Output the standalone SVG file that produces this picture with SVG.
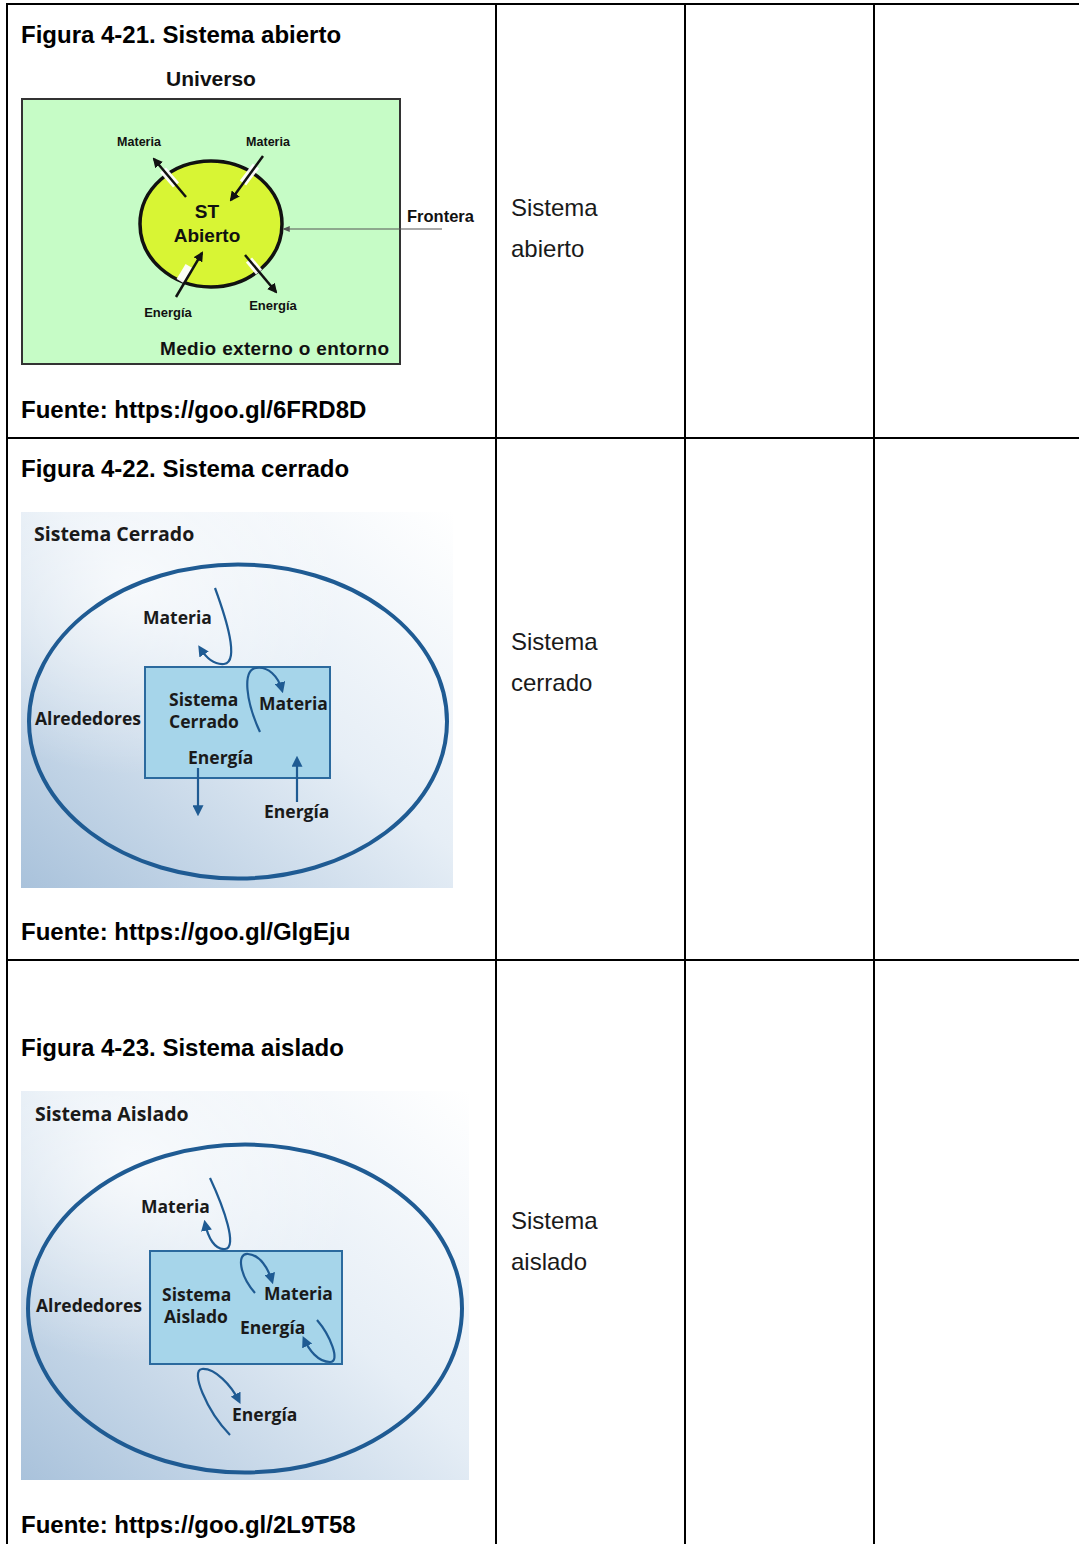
<svg xmlns="http://www.w3.org/2000/svg" width="1079" height="1544" viewBox="0 0 1079 1544">
<style>
.grid{stroke:#000;stroke-width:2;fill:none}
.t{font-family:"Liberation Sans",Arial,sans-serif;font-weight:bold;font-size:24px;fill:#000}
.r{font-family:"Liberation Sans",Arial,sans-serif;font-size:24px;fill:#1a1a1a}
.ob{font-family:"Liberation Sans",Arial,sans-serif;font-weight:bold;fill:#111}
.ms{font-family:"Open Sans","Noto Sans",sans-serif;font-weight:bold;font-size:17.5px;fill:#1a1a1a}
.ms.hd{font-size:19.5px}
.blk{stroke:#111;stroke-width:2.5;fill:none}
.wh{stroke:#fff;stroke-width:8;opacity:0.95}
.bl{stroke:#1f5b93;stroke-width:2.2;fill:none}
.ell{fill:none;stroke:#1f5b93;stroke-width:4}
.box{fill:#a6d5ea;stroke:#2b6a9e;stroke-width:2}
</style>
<defs>
<marker id="ak" viewBox="0 0 10 10" refX="8" refY="5" markerWidth="4" markerHeight="4" orient="auto"><path d="M0,0 L10,5 L0,10 Z" fill="#111"/></marker>
<marker id="af" viewBox="0 0 10 10" refX="8" refY="5" markerWidth="6" markerHeight="6" orient="auto"><path d="M0,1 L10,5 L0,9 Z" fill="#555"/></marker>
<marker id="ab" viewBox="0 0 10 10" refX="7" refY="5" markerWidth="5" markerHeight="5" orient="auto"><path d="M0,0 L10,5 L0,10 Z" fill="#1f5b93"/></marker>
<linearGradient id="bg" x1="1" y1="0" x2="0" y2="1">
<stop offset="0" stop-color="#ffffff"/>
<stop offset="0.45" stop-color="#e6eef6"/>
<stop offset="1" stop-color="#a9c2db"/>
</linearGradient>
<radialGradient id="hl" cx="0.25" cy="0.2" r="0.5">
<stop offset="0" stop-color="#ffffff" stop-opacity="0.7"/>
<stop offset="1" stop-color="#ffffff" stop-opacity="0"/>
</radialGradient>
</defs>

<g id="table">
<line class="grid" x1="6" y1="4" x2="1079" y2="4"/>
<line class="grid" x1="7" y1="3" x2="7" y2="1544"/>
<line class="grid" x1="496" y1="4" x2="496" y2="1544"/>
<line class="grid" x1="685" y1="4" x2="685" y2="1544"/>
<line class="grid" x1="874" y1="4" x2="874" y2="1544"/>
<line class="grid" x1="6" y1="438" x2="1079" y2="438"/>
<line class="grid" x1="6" y1="960" x2="1079" y2="960"/>
</g>

<g id="row1">
<text class="t" x="21" y="43">Figura 4-21. Sistema abierto</text>
<text class="ob" x="211" y="86" font-size="21" text-anchor="middle">Universo</text>
<rect x="22" y="99" width="378" height="265" fill="#c6fcc6" stroke="#333" stroke-width="2"/>
<g id="st-abierto">
<ellipse cx="211" cy="224" rx="71" ry="63" fill="#d8f534" stroke="#111" stroke-width="3.5"/>
<text class="ob" x="207" y="218" font-size="19" text-anchor="middle">ST</text>
<text class="ob" x="207" y="242" font-size="19" text-anchor="middle">Abierto</text>
</g>
<g id="open-arrows">
<line class="wh" x1="163" y1="170" x2="176" y2="185"/>
<line class="wh" x1="256" y1="166" x2="243" y2="183"/>
<line class="wh" x1="180" y1="281" x2="189" y2="266"/>
<line class="wh" x1="249" y1="260" x2="259" y2="272"/>
<line class="blk" x1="186" y1="197" x2="154" y2="159" marker-end="url(#ak)"/>
<line class="blk" x1="263" y1="156" x2="231" y2="200" marker-end="url(#ak)"/>
<line class="blk" x1="176" y1="297" x2="202" y2="253" marker-end="url(#ak)"/>
<line class="blk" x1="245" y1="255" x2="276" y2="292" marker-end="url(#ak)"/>
<line x1="442" y1="229" x2="284" y2="229" stroke="#555" stroke-width="1.2" marker-end="url(#af)"/>
</g>
<text class="ob" x="139" y="146" font-size="12.5" text-anchor="middle">Materia</text>
<text class="ob" x="268" y="146" font-size="12.5" text-anchor="middle">Materia</text>
<text class="ob" x="168" y="317" font-size="13" text-anchor="middle">Energía</text>
<text class="ob" x="273" y="310" font-size="13" text-anchor="middle">Energía</text>
<text class="ob" x="407" y="222" font-size="16.5">Frontera</text>
<text class="ob" x="160" y="355" font-size="19" textLength="229">Medio externo o entorno</text>
<text class="t" x="21" y="418">Fuente: https://goo.gl/6FRD8D</text>
<text class="r" x="511" y="216">Sistema</text>
<text class="r" x="511" y="257">abierto</text>
</g>

<g id="row2">
<text class="t" x="21" y="477">Figura 4-22. Sistema cerrado</text>
<rect x="21" y="512" width="432" height="376" fill="url(#bg)"/>
<rect x="21" y="512" width="432" height="376" fill="url(#hl)"/>
<text class="ms hd" x="34" y="541">Sistema Cerrado</text>
<ellipse class="ell" cx="238" cy="721.5" rx="209" ry="157"/>
<g id="cerrado-box">
<rect class="box" x="145" y="667" width="185" height="111"/>
<text class="ms" x="169" y="706">Sistema</text>
<text class="ms" x="169" y="728">Cerrado</text>
<text class="ms" x="259" y="710">Materia</text>
<text class="ms" x="188" y="764">Energía</text>
</g>
<text class="ms" x="35" y="725">Alrededores</text>
<text class="ms" x="143" y="624">Materia</text>
<text class="ms" x="264" y="818">Energía</text>
<g id="cerrado-arrows">
<path class="bl" d="M215,588 C226,618 240,662 224,664 C213,665 205,656 200,648" marker-end="url(#ab)"/>
<path class="bl" d="M260,732 C246,702 242,670 256,668 C268,666 278,676 282,690" marker-end="url(#ab)"/>
<line class="bl" x1="198" y1="768" x2="198" y2="813" marker-end="url(#ab)"/>
<line class="bl" x1="297" y1="802" x2="297" y2="759" marker-end="url(#ab)"/>
</g>
<text class="t" x="21" y="940">Fuente: https://goo.gl/GlgEju</text>
<text class="r" x="511" y="650">Sistema</text>
<text class="r" x="511" y="691">cerrado</text>
</g>

<g id="row3">
<text class="t" x="21" y="1056">Figura 4-23. Sistema aislado</text>
<rect x="21" y="1091" width="448" height="389" fill="url(#bg)"/>
<rect x="21" y="1091" width="448" height="389" fill="url(#hl)"/>
<text class="ms hd" x="35" y="1121">Sistema Aislado</text>
<ellipse class="ell" cx="245" cy="1308.5" rx="217" ry="164"/>
<g id="aislado-box">
<rect class="box" x="150" y="1251" width="192" height="113"/>
<text class="ms" x="162" y="1301">Sistema</text>
<text class="ms" x="164" y="1323">Aislado</text>
<text class="ms" x="264" y="1300">Materia</text>
<text class="ms" x="240" y="1334">Energía</text>
</g>
<text class="ms" x="36" y="1312">Alrededores</text>
<text class="ms" x="141" y="1213">Materia</text>
<text class="ms" x="232" y="1421">Energía</text>
<g id="aislado-arrows">
<path class="bl" d="M210,1178 C224,1208 238,1248 225,1249 C215,1250 208,1238 205,1223" marker-end="url(#ab)"/>
<path class="bl" d="M255,1293 C240,1276 236,1253 248,1254 C260,1255 268,1268 272,1281" marker-end="url(#ab)"/>
<path class="bl" d="M317,1320 C330,1335 341,1362 330,1362 C318,1362 309,1350 304,1339" marker-end="url(#ab)"/>
<path class="bl" d="M230,1435 C206,1410 190,1370 202,1369 C215,1368 231,1385 239,1401" marker-end="url(#ab)"/>
</g>
<text class="t" x="21" y="1533">Fuente: https://goo.gl/2L9T58</text>
<text class="r" x="511" y="1229">Sistema</text>
<text class="r" x="511" y="1270">aislado</text>
</g>
</svg>
